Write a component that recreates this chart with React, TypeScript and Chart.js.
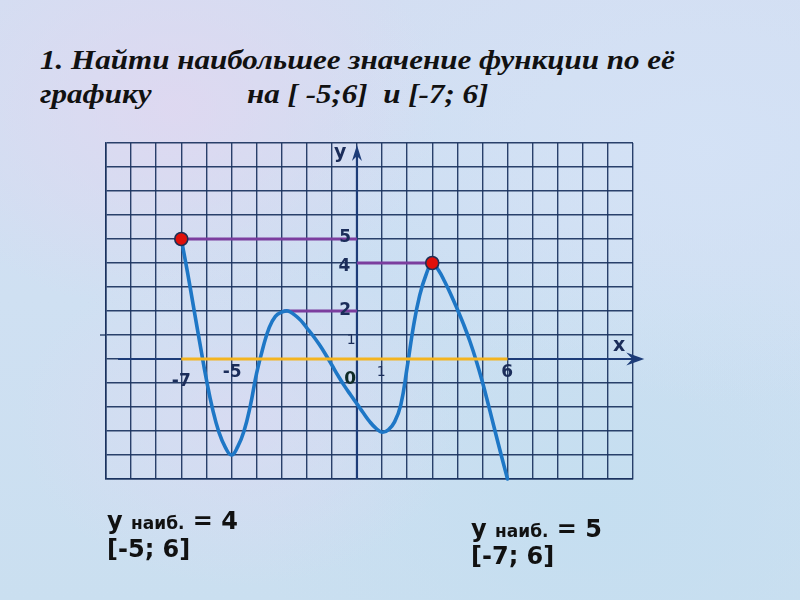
import React, { useEffect, useRef } from "react";
import { Chart, registerables } from "chart.js";

Chart.register(...registerables);

// ---- data ----
const curveX = [-7, -6.75, -6.5, -6.25, -6, -5.75, -5.5, -5.25, -5, -4.75, -4.5, -4.25, -4, -3.75, -3.5, -3.25, -3, -2.75, -2.5, -2.25, -2, -1.75, -1.5, -1.25, -1, -0.75, -0.5, -0.25, 0, 0.25, 0.5, 0.75, 1, 1.25, 1.5, 1.75, 2, 2.25, 2.5, 2.75, 3, 3.25, 3.5, 3.75, 4, 4.25, 4.5, 4.75, 5, 5.25, 5.5, 5.75, 6];
const curveY = [5, 3.6, 2.1, 0.6, -0.85, -2.1, -3.05, -3.67, -4, -3.65, -3.0, -1.95, -0.6, 0.45, 1.3, 1.78, 1.95, 2.0, 1.85, 1.62, 1.3, 0.97, 0.6, 0.19, -0.25, -0.7, -1.12, -1.5, -1.87, -2.24, -2.6, -2.88, -3.05, -2.95, -2.62, -1.9, -0.35, 1.35, 2.65, 3.5, 4, 3.7, 3.22, 2.67, 2.07, 1.44, 0.74, -0.06, -0.96, -1.96, -2.99, -4.01, -5];

const intervalX = [-7, 6];
const intervalY = [0, 0];

const levelY = [5, 4, 2];
const levelFrom = [-7, 0, -2.93];
const levelTo = [0, 3, 0];

const maxPointX = [-7, 3];
const maxPointY = [5, 4];

const xRange = [-10, 11];
const yRange = [-5, 9];

const axisLabels = ["y", "5", "4", "2", "1", "0", "-7", "-5", "1", "6", "x"];
const axisLabelX = [-0.67, -0.47, -0.5, -0.47, -0.23, -0.27, -7.0, -4.97, 0.97, 5.99, 10.45];
const axisLabelY = [8.58, 5.05, 3.85, 2.0, 0.79, -0.875, -0.92, -0.58, -0.54, -0.58, 0.54];

// ---- styles ----
const gridColor = "rgba(26,50,94,0.92)";
const axisColor = "#1d3c78";
const labelFonts = [
  "bold 19px 'DejaVu Sans'",
  "bold 17px 'DejaVu Sans'",
  "bold 17px 'DejaVu Sans'",
  "bold 17px 'DejaVu Sans'",
  "14px 'DejaVu Sans'",
  "bold 17px 'DejaVu Sans'",
  "bold 17px 'DejaVu Sans'",
  "bold 17px 'DejaVu Sans'",
  "14px 'DejaVu Sans'",
  "bold 17px 'DejaVu Sans'",
  "bold 19px 'DejaVu Sans'",
];
const labelColors = ["#1b2d5a", "#1b2d5a", "#1b2d5a", "#1b2d5a", "#1b2d5a", "#0f2a26", "#1b2d5a", "#1b2d5a", "#1b2d5a", "#1b2d5a", "#1b2d5a"];

const overlay = {
  id: "overlay",
  beforeDatasetsDraw(chart: any) {
    const { ctx, scales, chartArea } = chart;
    const x = scales.x;
    const y = scales.y;
    ctx.save();
    ctx.strokeStyle = gridColor;
    ctx.lineWidth = 1.4;
    ctx.beginPath();
    ctx.moveTo(chartArea.left - 6, y.getPixelForValue(1));
    ctx.lineTo(chartArea.left, y.getPixelForValue(1));
    ctx.stroke();

    const x0 = x.getPixelForValue(0);
    const y0 = y.getPixelForValue(0);
    const xs = x.getPixelForValue(-9.52);
    const xe = x.getPixelForValue(11.45);
    const ys = y.getPixelForValue(yRange[0]);
    const ye = y.getPixelForValue(8.92);
    ctx.strokeStyle = axisColor;
    ctx.lineWidth = 2.2;
    ctx.beginPath();
    ctx.moveTo(xs, y0);
    ctx.lineTo(xe - 6, y0);
    ctx.stroke();
    ctx.beginPath();
    ctx.moveTo(x0, ys);
    ctx.lineTo(x0, ye + 6);
    ctx.stroke();
    ctx.fillStyle = axisColor;
    ctx.beginPath();
    ctx.moveTo(xe, y0);
    ctx.lineTo(xe - 18, y0 - 6.5);
    ctx.lineTo(xe - 12, y0);
    ctx.lineTo(xe - 18, y0 + 6.5);
    ctx.closePath();
    ctx.fill();
    ctx.beginPath();
    ctx.moveTo(x0, ye);
    ctx.lineTo(x0 - 5, ye + 16);
    ctx.lineTo(x0, ye + 11);
    ctx.lineTo(x0 + 5, ye + 16);
    ctx.closePath();
    ctx.fill();
    ctx.restore();
  },
  afterDraw(chart: any) {
    const { ctx, scales } = chart;
    ctx.save();
    ctx.textAlign = "center";
    ctx.textBaseline = "middle";
    axisLabels.forEach((t, i) => {
      ctx.font = labelFonts[i];
      ctx.fillStyle = labelColors[i];
      ctx.fillText(t, scales.x.getPixelForValue(axisLabelX[i]), scales.y.getPixelForValue(axisLabelY[i]));
    });
    ctx.restore();
  },
};

function ChartCanvas() {
  const ref = useRef<HTMLCanvasElement | null>(null);
  useEffect(() => {
    if (!ref.current) return;
    const pts = (xs: number[], ys: number[]) => xs.map((v, i) => ({ x: v, y: ys[i] }));
    const datasets: any[] = [
      {
        label: "max points",
        data: pts(maxPointX, maxPointY),
        showLine: false,
        pointRadius: 6.5,
        pointBackgroundColor: "#e0100a",
        pointBorderColor: "#1f2f55",
        pointBorderWidth: 1.6,
        order: 0,
        clip: false,
      },
      {
        label: "interval",
        data: pts(intervalX, intervalY),
        borderColor: "#f4b41f",
        borderWidth: 3,
        pointRadius: 0,
        order: 1,
        clip: false,
      },
      {
        label: "f(x)",
        data: pts(curveX, curveY),
        borderColor: "#1e77c6",
        borderWidth: 3.6,
        pointRadius: 0,
        tension: 0.45,
        borderJoinStyle: "round",
        borderCapStyle: "round",
        order: 2,
        clip: false,
      },
    ];
    levelY.forEach((lv, i) => {
      datasets.push({
        label: "level " + lv,
        data: [
          { x: levelFrom[i], y: lv },
          { x: levelTo[i], y: lv },
        ],
        borderColor: "#7b3d9e",
        borderWidth: 3,
        pointRadius: 0,
        order: 3,
        clip: false,
      });
    });
    const chart = new Chart(ref.current, {
      type: "line",
      data: { datasets },
      options: {
        animation: false,
        responsive: false,
        layout: { padding: { left: 106, right: 167, top: 143, bottom: 121 } },
        plugins: { legend: { display: false }, tooltip: { enabled: false } },
        scales: {
          x: {
            type: "linear",
            min: xRange[0],
            max: xRange[1],
            ticks: { display: false, stepSize: 1 },
            grid: { color: gridColor, lineWidth: 1.4, drawTicks: false },
            border: { display: true, color: gridColor, width: 1.6 },
          },
          y: {
            type: "linear",
            min: yRange[0],
            max: yRange[1],
            ticks: { display: false, stepSize: 1 },
            grid: { color: gridColor, lineWidth: 1.4, drawTicks: false },
            border: { display: true, color: gridColor, width: 1.6 },
          },
        },
      } as any,
      plugins: [overlay],
    });
    return () => chart.destroy();
  }, []);
  return <canvas ref={ref} width={800} height={600} style={{ position: "absolute", left: 0, top: 0, width: 800, height: 600 }} />;
}

export default function App() {
  const bg =
    "radial-gradient(ellipse at 22% 18%, rgba(226,214,240,0.75) 0%, rgba(226,214,240,0) 30%)," +
    "radial-gradient(ellipse at 30% 70%, rgba(222,216,242,0.6) 0%, rgba(222,216,242,0) 28%)," +
    "radial-gradient(ellipse at 88% 25%, rgba(212,226,246,0.9) 0%, rgba(212,226,246,0) 40%)," +
    "radial-gradient(ellipse at 75% 85%, rgba(196,222,240,0.9) 0%, rgba(196,222,240,0) 40%)," +
    "radial-gradient(ellipse at 50% 45%, rgba(202,222,242,0.9) 0%, rgba(202,222,242,0) 45%)," +
    "linear-gradient(180deg, #d3def2 0%, #cfe0f2 50%, #cadff0 100%)";
  const title: React.CSSProperties = {
    position: "absolute",
    fontFamily: "'Liberation Serif', serif",
    fontWeight: "bold",
    fontStyle: "italic",
    fontSize: 27,
    lineHeight: "27px",
    color: "#111",
    whiteSpace: "pre",
    transform: "scaleX(1.15)",
    transformOrigin: "left center",
  };
  const note: React.CSSProperties = {
    position: "absolute",
    fontFamily: "'DejaVu Sans', sans-serif",
    fontWeight: "bold",
    fontSize: 24,
    lineHeight: "24px",
    color: "#111",
    whiteSpace: "pre",
  };
  const small: React.CSSProperties = { fontSize: 17 };
  return (
    <div style={{ position: "fixed", left: 0, top: 0, width: 800, height: 600, background: bg, overflow: "hidden" }}>
      <div style={{ ...title, left: 40, top: 47 }}>1. Найти наибольшее значение функции по её</div>
      <div style={{ ...title, left: 40, top: 81 }}>графику</div>
      <div style={{ ...title, left: 247, top: 81 }}>на [ -5;6]  и [-7; 6]</div>
      <ChartCanvas />
      <div style={{ ...note, left: 107, top: 509 }}>
        y <span style={small}>наиб.</span> = 4
      </div>
      <div style={{ ...note, left: 107, top: 537 }}>[-5; 6]</div>
      <div style={{ ...note, left: 471, top: 517 }}>
        y <span style={small}>наиб.</span> = 5
      </div>
      <div style={{ ...note, left: 471, top: 544 }}>[-7; 6]</div>
    </div>
  );
}
